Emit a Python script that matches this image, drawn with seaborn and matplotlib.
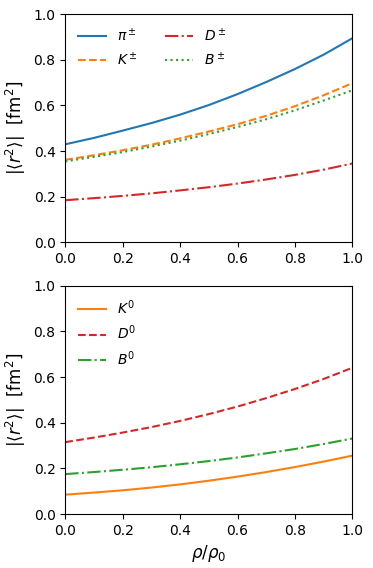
import matplotlib
matplotlib.use('Agg')
import matplotlib.pyplot as plt
import seaborn as sns
import pandas as pd
import numpy as np

# %% Data
rho = [0.0, 0.1, 0.2, 0.3, 0.4, 0.5, 0.6, 0.7, 0.8, 0.9, 1.0]

pi_c = [0.430, 0.458, 0.490, 0.523, 0.560, 0.602, 0.650, 0.703, 0.760, 0.823, 0.895]
k_c = [0.362, 0.382, 0.404, 0.428, 0.456, 0.486, 0.518, 0.555, 0.597, 0.645, 0.698]
d_c = [0.185, 0.194, 0.204, 0.215, 0.228, 0.242, 0.258, 0.276, 0.296, 0.319, 0.346]
b_c = [0.355, 0.375, 0.396, 0.420, 0.446, 0.475, 0.506, 0.540, 0.579, 0.622, 0.667]

k_0 = [0.085, 0.094, 0.104, 0.116, 0.130, 0.146, 0.164, 0.184, 0.206, 0.230, 0.256]
d_0 = [0.315, 0.335, 0.357, 0.381, 0.408, 0.438, 0.471, 0.508, 0.548, 0.592, 0.641]
b_0 = [0.175, 0.184, 0.194, 0.205, 0.218, 0.232, 0.248, 0.266, 0.285, 0.307, 0.331]

blue, orange, green, red = 'tab:blue', 'tab:orange', 'tab:green', 'tab:red'

fig, (ax1, ax2) = plt.subplots(2, 1, figsize=(3.73, 5.68), dpi=100)

# %% Charged mesons
top = [(pi_c, r'$\pi^\pm$', blue, '-'), (k_c, r'$K^\pm$', orange, '--'),
       (d_c, r'$D^\pm$', red, '-.'), (b_c, r'$B^\pm$', green, ':')]
for y, lab, c, ls in top:
    sns.lineplot(x=rho, y=y, ax=ax1, label=lab, color=c, linestyle=ls, linewidth=1.5)
ax1.legend(loc='upper left', ncol=2, frameon=False, fontsize=10)

# %% Neutral mesons
bot = [(k_0, r'$K^0$', orange, '-'), (d_0, r'$D^0$', red, '--'), (b_0, r'$B^0$', green, '-.')]
for y, lab, c, ls in bot:
    sns.lineplot(x=rho, y=y, ax=ax2, label=lab, color=c, linestyle=ls, linewidth=1.5)
ax2.legend(loc='upper left', frameon=False, fontsize=10)

for ax in (ax1, ax2):
    ax.set_xlim(0, 1)
    ax.set_ylim(0, 1)
    ax.set_xticks(np.arange(0, 1.01, 0.2))
    ax.set_yticks(np.arange(0, 1.01, 0.2))
    ax.set_ylabel(r'$|\langle r^2\rangle|$  [fm$^2$]', fontsize=12)
ax2.set_xlabel(r'$\rho/\rho_0$', fontsize=12)

plt.subplots_adjust(left=0.175, right=0.945, top=0.975, bottom=0.095, hspace=0.19)
plt.savefig('out.png', dpi=100)
